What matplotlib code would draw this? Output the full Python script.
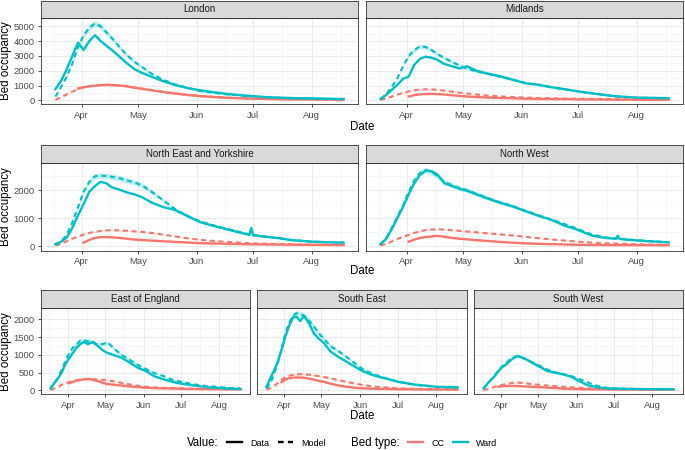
import numpy as np
import pandas as pd
import matplotlib
matplotlib.use("Agg")
import matplotlib.pyplot as plt
import matplotlib.dates as mdates
from matplotlib.lines import Line2D

plt.rcParams['font.family'] = ['Liberation Sans', 'DejaVu Sans']

dates = ["03-18", "03-21", "03-24", "03-27", "03-30", "04-02", "04-05", "04-08",
         "04-11", "04-14", "04-17", "04-21", "04-25", "04-29", "05-03", "05-08",
         "05-14", "05-20", "05-27", "06-03", "06-10", "06-17", "06-24", "06-29",
         "06-30", "07-01", "07-08", "07-15", "07-21", "07-22", "07-23", "08-01",
         "08-10", "08-18"]
N = np.nan

lon_ward_data = [750, 1300, 2100, 3000, 3900, 3400, 4000, 4400, 4000, 3700, 3400, 2950, 2500, 2100, 1850, 1600, 1300,
                 1050, 830, 670, 550, 430, 350, 300, 290, 280, 210, 180, 155, 150, 148, 125, 105, 90]
lon_ward_model = [250, 900, 1600, 2500, 3600, 4400, 4900, 5200, 5000, 4600, 4200, 3600, 3050, 2600, 2250, 1800, 1400,
                  1100, 850, 620, 500, 400, 320, 275, 268, 260, 210, 170, 142, 140, 137, 115, 95, 80]
lon_cc_data = [N, N, N, N, 800, 880, 950, 980, 1020, 1040, 1030, 1000, 940, 850, 770, 680, 560,
               460, 360, 280, 220, 170, 140, 115, 112, 110, 90, 75, 66, 65, 64, 55, 47, 40]
lon_cc_model = [40, 200, 400, 580, 760, 880, 960, 1010, 1040, 1050, 1040, 1000, 950, 870, 790, 700, 580,
                470, 370, 290, 230, 180, 145, 120, 117, 115, 95, 80, 71, 70, 69, 58, 48, 40]

mid_ward_data = [90, 350, 700, 1050, 1450, 1600, 2400, 2800, 2950, 2880, 2750, 2450, 2300, 2150, 2300, 2000, 1800,
                 1650, 1400, 1150, 1050, 880, 750, 640, 620, 600, 480, 360, 270, 260, 255, 180, 160, 140]
mid_ward_model = [80, 400, 900, 1500, 2300, 3000, 3400, 3650, 3600, 3400, 3150, 2850, 2600, 2350, 2150, 1950, 1800,
                  1600, 1400, 1180, 1030, 880, 740, 640, 620, 600, 470, 350, 270, 260, 255, 185, 160, 145]
mid_cc_data = [N, N, N, N, N, 260, 350, 400, 420, 430, 420, 390, 340, 300, 260, 220, 185,
               160, 135, 110, 95, 85, 75, 68, 66, 65, 55, 50, 46, 45, 45, 40, 38, 35]
mid_cc_model = [30, 120, 250, 380, 500, 590, 680, 730, 745, 740, 710, 650, 580, 520, 460, 390, 320,
                270, 220, 180, 155, 135, 120, 112, 111, 110, 95, 85, 76, 75, 75, 67, 63, 60]

ney_ward_data = [70, 150, 300, 650, 1100, 1500, 1950, 2150, 2300, 2250, 2100, 2020, 1920, 1850, 1750, 1560, 1400,
                 1300, 1080, 850, 720, 600, 480, 400, 650, 380, 330, 280, 210, 205, 200, 155, 135, 120]
ney_ward_model = [40, 150, 400, 850, 1400, 1950, 2300, 2500, 2520, 2510, 2480, 2430, 2350, 2280, 2170, 1950, 1650,
                  1350, 1070, 880, 740, 620, 500, 420, 410, 400, 330, 270, 220, 215, 210, 160, 135, 120]
ney_cc_data = [N, N, N, N, N, 120, 220, 290, 320, 320, 310, 290, 260, 230, 215, 195, 170,
               150, 125, 100, 90, 80, 70, 62, 61, 60, 55, 50, 47, 46, 46, 42, 40, 38]
ney_cc_model = [20, 80, 170, 260, 340, 410, 470, 510, 540, 560, 570, 560, 545, 525, 505, 470, 410,
                350, 280, 220, 180, 150, 120, 100, 98, 95, 80, 68, 58, 57, 56, 45, 40, 35]

nw_ward_data = [70, 250, 600, 1000, 1400, 1850, 2250, 2550, 2700, 2680, 2580, 2250, 2150, 2050, 1980, 1850, 1700,
                1560, 1420, 1250, 1080, 930, 720, 620, 600, 570, 380, 290, 260, 370, 250, 200, 160, 130]
nw_ward_model = [60, 280, 650, 1050, 1450, 1950, 2350, 2620, 2720, 2660, 2520, 2300, 2180, 2080, 2000, 1870, 1720,
                 1580, 1440, 1260, 1100, 950, 780, 660, 640, 600, 420, 320, 270, 265, 262, 210, 170, 140]
nw_cc_data = [N, N, N, N, N, 155, 230, 290, 320, 340, 365, 330, 290, 260, 240, 210, 180,
              150, 120, 95, 80, 68, 55, 45, 44, 42, 38, 35, 33, 33, 33, 32, 30, 30]
nw_cc_model = [20, 80, 160, 250, 330, 400, 470, 530, 570, 590, 600, 590, 570, 545, 520, 490, 455,
               420, 380, 330, 280, 235, 195, 165, 160, 155, 125, 100, 85, 82, 80, 62, 52, 45]

eoe_ward_data = [56, 200, 330, 500, 740, 900, 1050, 1200, 1300, 1360, 1300, 1360, 1250, 1130, 1050, 990, 920,
                 800, 640, 540, 390, 310, 240, 200, 195, 190, 150, 120, 90, 85, 82, 65, 45, 35]
eoe_ward_model = [40, 200, 360, 580, 820, 1050, 1200, 1300, 1400, 1410, 1380, 1360, 1280, 1300, 1350, 1180, 1000,
                  880, 720, 600, 480, 400, 300, 255, 248, 240, 190, 150, 122, 120, 118, 90, 65, 50]
eoe_cc_data = [N, N, N, N, N, 200, 240, 270, 290, 310, 320, 300, 260, 210, 175, 155, 135,
               110, 90, 70, 60, 55, 50, 45, 44, 43, 38, 35, 32, 32, 31, 30, 27, 25]
eoe_cc_model = [10, 50, 100, 150, 200, 230, 260, 280, 300, 310, 312, 310, 305, 295, 285, 250, 210,
                170, 130, 100, 80, 70, 60, 56, 55, 55, 48, 43, 40, 40, 39, 35, 32, 30]

se_ward_data = [100, 340, 560, 800, 1150, 1510, 1800, 2050, 2070, 1950, 2100, 1890, 1600, 1450, 1330, 1100, 950,
                830, 680, 540, 440, 370, 310, 260, 252, 240, 200, 160, 140, 138, 135, 100, 90, 85]
se_ward_model = [50, 200, 450, 780, 1150, 1600, 1900, 2100, 2170, 2150, 2100, 1960, 1790, 1600, 1450, 1250, 1120,
                 970, 780, 600, 480, 390, 320, 270, 260, 245, 200, 155, 130, 128, 125, 95, 80, 70]
se_cc_data = [N, N, N, N, 230, 300, 340, 355, 360, 360, 355, 330, 300, 265, 235, 190, 140,
              105, 75, 55, 45, 40, 35, 32, 32, 30, 28, 26, 24, 24, 24, 22, 21, 20]
se_cc_model = [20, 60, 120, 200, 290, 370, 410, 435, 450, 455, 450, 440, 420, 400, 375, 340, 290,
               245, 195, 150, 115, 90, 72, 60, 58, 55, 48, 42, 37, 36, 36, 30, 27, 25]

sw_ward_data = [56, 180, 290, 400, 540, 650, 720, 820, 900, 970, 940, 880, 800, 720, 650, 550, 500,
                460, 390, 260, 140, 90, 60, 50, 50, 48, 42, 38, 35, 35, 35, 32, 30, 30]
sw_ward_model = [40, 170, 300, 420, 560, 680, 760, 860, 930, 960, 930, 880, 810, 740, 680, 590, 510,
                 460, 410, 320, 220, 130, 75, 60, 58, 55, 45, 40, 37, 37, 36, 33, 31, 30]
sw_cc_data = [N, N, N, N, 100, 115, 120, 122, 122, 120, 115, 108, 100, 92, 85, 75, 65,
              50, 38, 30, 27, 25, 23, 22, 22, 22, 21, 20, 20, 20, 20, 20, 20, 20]
sw_cc_model = [10, 30, 60, 95, 130, 150, 175, 195, 210, 215, 210, 195, 180, 165, 150, 135, 118,
               100, 85, 70, 55, 45, 38, 35, 35, 34, 30, 27, 25, 25, 25, 22, 21, 20]

curves = {
    "London": (lon_cc_data, lon_cc_model, lon_ward_data, lon_ward_model),
    "Midlands": (mid_cc_data, mid_cc_model, mid_ward_data, mid_ward_model),
    "North East and Yorkshire": (ney_cc_data, ney_cc_model, ney_ward_data, ney_ward_model),
    "North West": (nw_cc_data, nw_cc_model, nw_ward_data, nw_ward_model),
    "East of England": (eoe_cc_data, eoe_cc_model, eoe_ward_data, eoe_ward_model),
    "South East": (se_cc_data, se_cc_model, se_ward_data, se_ward_model),
    "South West": (sw_cc_data, sw_cc_model, sw_ward_data, sw_ward_model),
}

CC = "#F8766D"
WARD = "#00BFC4"
DASH = (2.4, 1.8)

day = pd.to_datetime(["2020-" + d for d in dates])
x = mdates.date2num(day)
x_lo = mdates.date2num(day[0] - pd.Timedelta(days=7.65))
x_hi = mdates.date2num(day[-1] + pd.Timedelta(days=7.65))
months = mdates.date2num(pd.to_datetime(["2020-04-01", "2020-05-01", "2020-06-01", "2020-07-01", "2020-08-01"]))
mids = list((months[:-1] + months[1:]) / 2)
mids = [months[0] - (months[1] - months[0]) / 2] + mids + [months[-1] + (months[-1] - months[-2]) / 2]

W, H = 685.0, 450.0
fig = plt.figure(figsize=(6.85, 4.5), dpi=100)


def box(x0, y0, x1, y1):
    return [x0 / W, 1 - y1 / H, (x1 - x0) / W, (y1 - y0) / H]


# (panels, x extents, (strip top, panel top, panel bottom), ylim, major, "Date" y)
rows = [
    (["London", "Midlands"], [(41, 358), (366, 683)], (1, 17.5, 104), (-250, 5595), 1000, 127),
    (["North East and Yorkshire", "North West"], [(41, 358), (366, 683)], (144.5, 163.3, 250.7), (-168, 2964), 1000, 271),
    (["East of England", "South East", "South West"], [(41, 250), (257, 467), (474, 683)], (289.5, 308.3, 394.3),
     (-113, 2310), 500, 416),
]

for names, xs, (s_top, p_top, p_bot), ylim, major, date_y in rows:
    for k, (name, (x0, x1)) in enumerate(zip(names, xs)):
        ax = fig.add_axes(box(x0, p_top, x1, p_bot))
        cc_d, cc_m, w_d, w_m = curves[name]
        for model, col in ((cc_m, CC), (w_m, WARD)):
            m = np.array(model, float)
            ax.fill_between(x, m * 0.96, m * 1.04, color=col, alpha=0.25, lw=0, zorder=2)
        for data, model, col in ((cc_d, cc_m, CC), (w_d, w_m, WARD)):
            ax.plot(x, model, color=col, lw=1.5, dashes=DASH, zorder=3)
            ax.plot(x, data, color=col, lw=1.7, zorder=3)

        ax.set_xlim(x_lo, x_hi)
        ax.set_ylim(*ylim)
        ax.set_xticks(months)
        ax.set_xticklabels(["Apr", "May", "Jun", "Jul", "Aug"])
        ax.set_xticks(mids, minor=True)
        ax.set_yticks(np.arange(0, ylim[1], major))
        ax.set_yticks(np.arange(major / 2, ylim[1], major), minor=True)
        ax.yaxis.set_major_formatter(plt.FuncFormatter(lambda v, p: "%d" % v))
        ax.grid(which="major", color="#EBEBEB", lw=0.7, zorder=0)
        ax.grid(which="minor", color="#F2F2F2", lw=0.45, zorder=0)
        ax.set_axisbelow(True)
        ax.tick_params(which="major", length=2.2, width=0.6, color="#333333", labelsize=6.8,
                       labelcolor="#4D4D4D", pad=2.5)
        ax.tick_params(which="minor", length=0)
        if k > 0:
            ax.tick_params(axis="y", which="both", length=0, labelleft=False)
        for sp in ax.spines.values():
            sp.set_color("#333333")
            sp.set_linewidth(0.6)

        st = fig.add_axes(box(x0, s_top, x1, p_top))
        st.set_facecolor("#D9D9D9")
        st.set_xticks([])
        st.set_yticks([])
        for sp in st.spines.values():
            sp.set_color("#333333")
            sp.set_linewidth(0.6)
        st.text(0.5, 0.5, name, ha="center", va="center", fontsize=7, color="#1A1A1A",
                transform=st.transAxes)

    fig.text(6.5 / W, 1 - (p_top + p_bot) / 2 / H, "Bed occupancy", rotation=90,
             ha="center", va="center", fontsize=8.3)
    fig.text(362 / W, 1 - date_y / H, "Date", ha="center", va="center", fontsize=8.3)

# legends
leg_y = 1 - 443 / H
fig.text(187 / W, leg_y, "Value:", ha="left", va="center", fontsize=8.3)
h_val = [Line2D([], [], color="black", lw=1.7),
         Line2D([], [], color="black", lw=1.7, dashes=DASH)]
fig.legend(h_val, ["Data", "Model"], ncol=2, loc="center left", bbox_to_anchor=(227 / W, leg_y),
           frameon=False, fontsize=6.5, handlelength=1.7, handletextpad=0.9, columnspacing=0.9,
           borderpad=0, borderaxespad=0)
fig.text(351 / W, leg_y, "Bed type:", ha="left", va="center", fontsize=8.3)
h_bed = [Line2D([], [], color=CC, lw=1.7), Line2D([], [], color=WARD, lw=1.7)]
fig.legend(h_bed, ["CC", "Ward"], ncol=2, loc="center left", bbox_to_anchor=(408 / W, leg_y),
           frameon=False, fontsize=6.5, handlelength=1.7, handletextpad=0.9, columnspacing=0.9,
           borderpad=0, borderaxespad=0)

fig.savefig("out.png", dpi=100)
